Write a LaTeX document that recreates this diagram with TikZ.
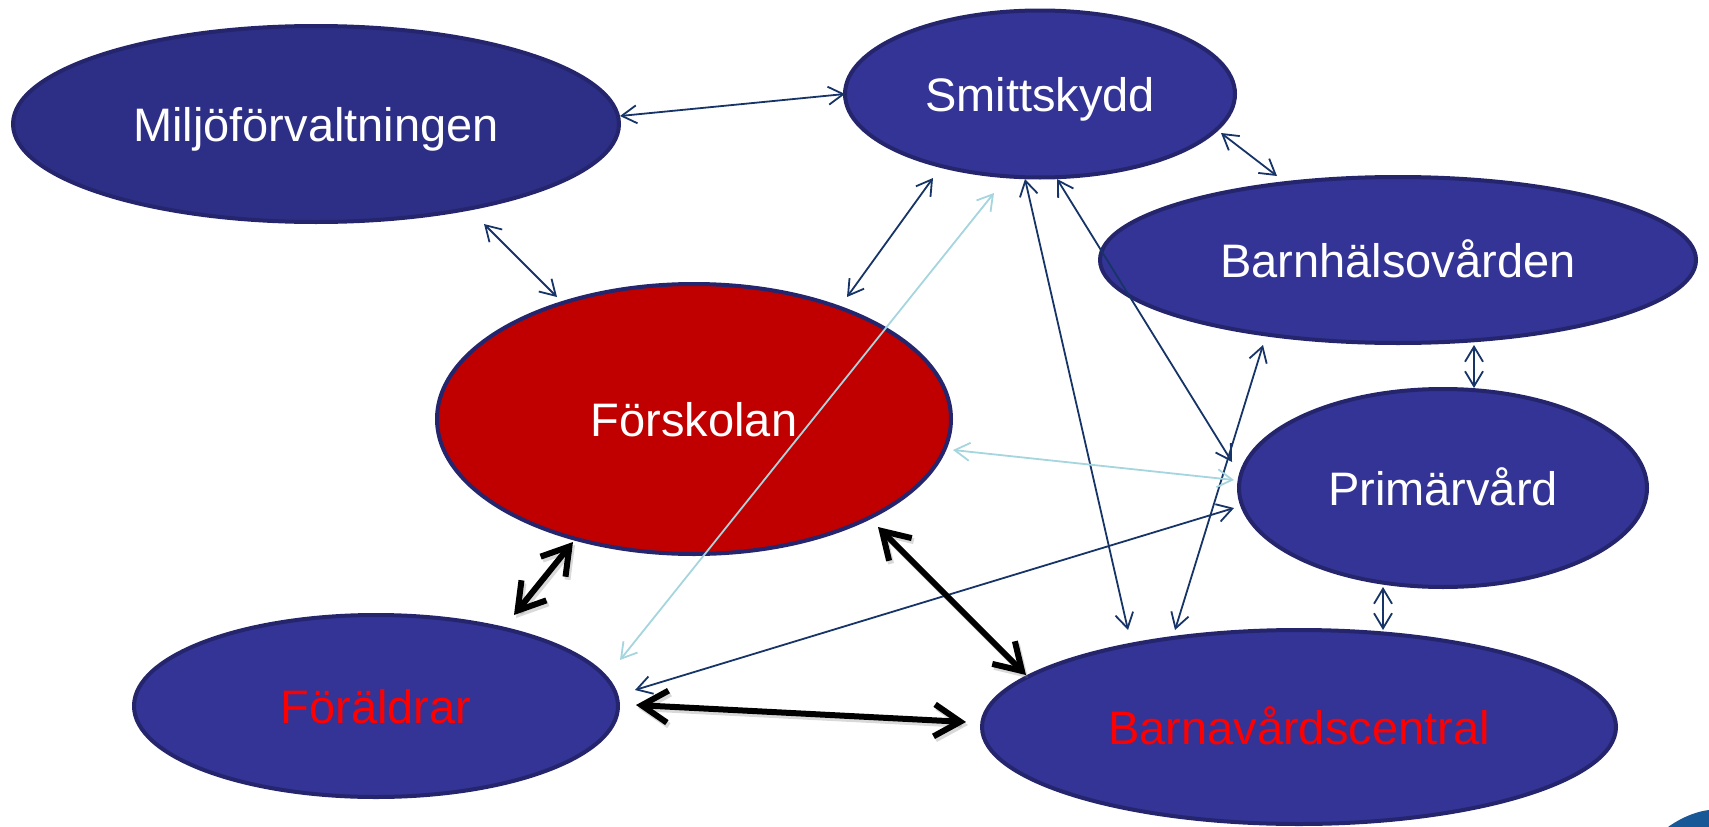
\documentclass[tikz,border=0pt]{standalone}
\usepackage{fontspec}
\setmainfont{Liberation Sans}
\usetikzlibrary{shapes.geometric,arrows.meta,calc}
\definecolor{nodeblue}{RGB}{51,52,149}
\definecolor{nodedark}{RGB}{45,47,134}
\definecolor{edgeblue}{RGB}{36,37,108}
\definecolor{forsk}{RGB}{192,0,0}
\definecolor{linknavy}{RGB}{22,52,104}
\definecolor{linklight}{RGB}{165,213,222}
\definecolor{logoblue}{RGB}{24,88,150}
\definecolor{redtext}{RGB}{255,0,0}
\begin{document}
\begin{tikzpicture}[x=1pt,y=-1pt,
  orgnode/.style={ellipse, draw=edgeblue, line width=4pt, fill=nodeblue, inner sep=0pt,
    text=white, font=\fontsize{47}{56}\selectfont, text height=34pt, text depth=0pt},
  thinlink/.style={draw=linknavy, line width=1.8pt,
    {Straight Barb[length=15pt,width=18pt]}-{Straight Barb[length=15pt,width=18pt]}},
  lightlink/.style={thinlink, draw=linklight},
  thicklink/.style={draw=black, line width=6pt, line cap=round, line join=round,
    {Straight Barb[length=26pt,width=32pt]}-{Straight Barb[length=26pt,width=32pt]}},
  thickshadow/.style={thicklink, draw=black!50, opacity=0.3},
]
\useasboundingbox (0,0) rectangle (1709,827);
% nodes
\node[orgnode, fill=nodedark, minimum width=606pt, minimum height=196pt] (M) at (316,124) {Miljöförvaltningen};
\node[orgnode, minimum width=390pt, minimum height=167pt] (S) at (1040,94) {Smittskydd};
\node[orgnode, minimum width=596pt, minimum height=166pt] (B) at (1398,260) {Barnhälsovården};
\node[orgnode, fill=forsk, minimum width=514pt, minimum height=270pt] (F) at (694,419) {Förskolan};
\node[orgnode, minimum width=408pt, minimum height=198pt] (P) at (1443,488) {Primärvård};
\node[orgnode, text=redtext, minimum width=484pt, minimum height=182pt] (Fo) at (376,706) {Föräldrar};
\node[orgnode, text=redtext, minimum width=634pt, minimum height=194pt] (C) at (1299,727) {Barnavårdscentral};
% logo fragment
\fill[logoblue] (1668,827) .. controls (1685,815) and (1700,811) .. (1709,810) -- (1709,827) -- cycle;
% thin links
\draw[thinlink] ($(M)+(304,-8)$) -- ($(S)+(-195,0)$);
\draw[thinlink] ($(M)+(168,100)$) -- ($(F)+(-137,-122)$);
\draw[thinlink] ($(F)+(153,-122)$) -- ($(S)+(-107,84)$);
\draw[thinlink] ($(S)+(-15,85)$) -- ($(C)+(-171,-97)$);
\draw[thinlink] ($(S)+(17,85)$) -- ($(P)+(-211,-26)$);
\draw[thinlink] ($(S)+(181,39)$) -- ($(B)+(-121,-84)$);
\draw[thinlink] ($(C)+(-124,-97)$) -- ($(B)+(-135,85)$);
\draw[thinlink] ($(B)+(76,85)$) -- ($(P)+(31,-100)$);
\draw[thinlink] ($(Fo)+(259,-16)$) -- ($(P)+(-209,20)$);
\draw[thinlink] ($(P)+(-60,99)$) -- ($(C)+(84,-97)$);
% light links
\draw[lightlink] ($(Fo)+(244,-46)$) -- ($(S)+(-46,99)$);
\draw[lightlink] ($(F)+(259,31)$) -- ($(P)+(-209,-8)$);
% thick links with shadow
\begin{scope}[transform canvas={shift={(2pt,-3pt)}}]
\draw[thickshadow] ($(F)+(-121,123)$) -- ($(Fo)+(138,-91)$);
\draw[thickshadow] ($(F)+(184,108)$) -- ($(C)+(-273,-52)$);
\draw[thickshadow] ($(Fo)+(260,-1)$) -- ($(C)+(-333,-5)$);
\end{scope}
\draw[thicklink] ($(F)+(-121,123)$) -- ($(Fo)+(138,-91)$);
\draw[thicklink] ($(F)+(184,108)$) -- ($(C)+(-273,-52)$);
\draw[thicklink] ($(Fo)+(260,-1)$) -- ($(C)+(-333,-5)$);
\end{tikzpicture}
\end{document}
